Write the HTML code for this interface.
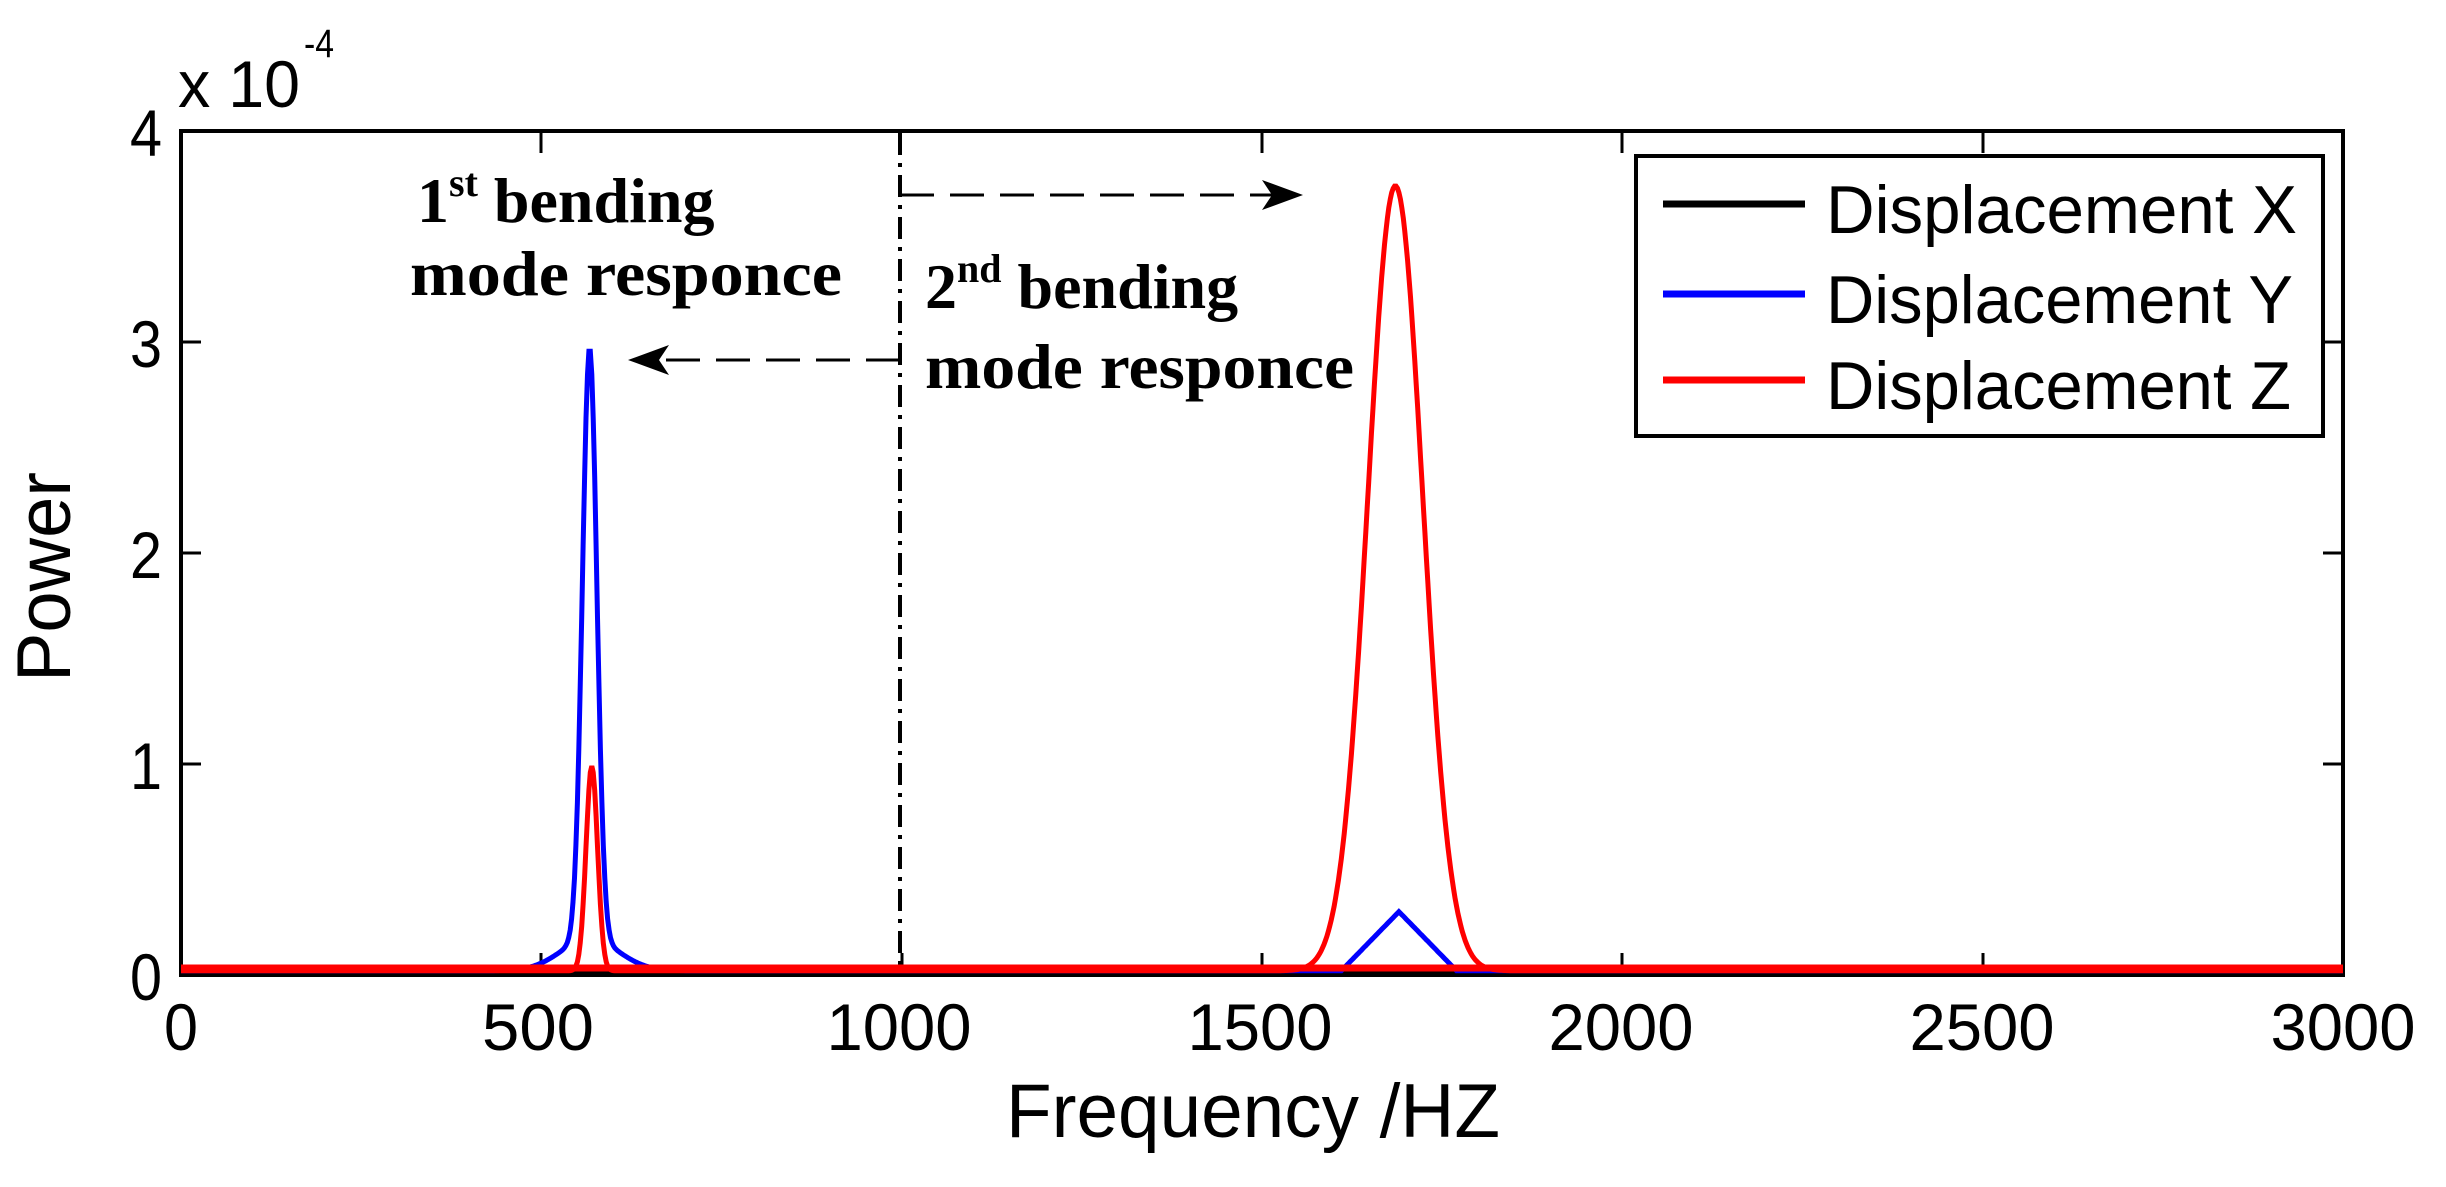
<!DOCTYPE html>
<html><head><meta charset="utf-8"><style>
html,body{margin:0;padding:0;background:#fff;}
svg{display:block;}
text.s{font-family:"Liberation Sans",sans-serif;}
text.t{font-family:"Liberation Serif",serif;font-weight:bold;}
</style></head><body>
<svg id="s" width="2446" height="1187" viewBox="0 0 2446 1187" xmlns="http://www.w3.org/2000/svg">
<rect width="2446" height="1187" fill="#fff"/>
<rect x="181" y="131" width="2162" height="844" fill="none" stroke="#000" stroke-width="4"/>
<g stroke="#000" stroke-width="3">
<line x1="541" y1="975" x2="541" y2="953"/><line x1="902" y1="975" x2="902" y2="953"/><line x1="1262" y1="975" x2="1262" y2="953"/><line x1="1622" y1="975" x2="1622" y2="953"/><line x1="1983" y1="975" x2="1983" y2="953"/>
<line x1="541" y1="131" x2="541" y2="153"/><line x1="1262" y1="131" x2="1262" y2="153"/><line x1="1622" y1="131" x2="1622" y2="153"/><line x1="1983" y1="131" x2="1983" y2="153"/>
<line x1="181" y1="342" x2="201" y2="342"/><line x1="181" y1="553" x2="201" y2="553"/><line x1="181" y1="764" x2="201" y2="764"/>
<line x1="2343" y1="342" x2="2323" y2="342"/><line x1="2343" y1="553" x2="2323" y2="553"/><line x1="2343" y1="764" x2="2323" y2="764"/>
</g>
<g font-size="66" text-anchor="end">
<text class="s" x="162" y="1000" textLength="32" lengthAdjust="spacingAndGlyphs">0</text>
<text class="s" x="162" y="789" textLength="32" lengthAdjust="spacingAndGlyphs">1</text>
<text class="s" x="162" y="578" textLength="32" lengthAdjust="spacingAndGlyphs">2</text>
<text class="s" x="162" y="367" textLength="32" lengthAdjust="spacingAndGlyphs">3</text>
<text class="s" x="162" y="156" textLength="32" lengthAdjust="spacingAndGlyphs">4</text>
</g>
<g font-size="66" text-anchor="middle">
<text class="s" x="181" y="1050" textLength="34" lengthAdjust="spacingAndGlyphs">0</text>
<text class="s" x="538" y="1050" textLength="112" lengthAdjust="spacingAndGlyphs">500</text>
<text class="s" x="899" y="1050" textLength="145" lengthAdjust="spacingAndGlyphs">1000</text>
<text class="s" x="1260" y="1050" textLength="145" lengthAdjust="spacingAndGlyphs">1500</text>
<text class="s" x="1621" y="1050" textLength="145" lengthAdjust="spacingAndGlyphs">2000</text>
<text class="s" x="1982" y="1050" textLength="145" lengthAdjust="spacingAndGlyphs">2500</text>
<text class="s" x="2343" y="1050" textLength="145" lengthAdjust="spacingAndGlyphs">3000</text>
</g>
<text class="s" x="178" y="107" font-size="66" textLength="122" lengthAdjust="spacingAndGlyphs">x 10</text>
<text class="s" x="304" y="57" font-size="40" textLength="30" lengthAdjust="spacingAndGlyphs">-4</text>
<text class="s" x="1006" y="1137" font-size="76" textLength="494" lengthAdjust="spacingAndGlyphs">Frequency /HZ</text>
<text class="s" transform="translate(70,577) rotate(-90)" font-size="76" text-anchor="middle" textLength="210" lengthAdjust="spacingAndGlyphs">Power</text>
<line x1="900" y1="133" x2="900" y2="973" stroke="#000" stroke-width="4" stroke-dasharray="22,8,4,8"/>
<line x1="900" y1="195" x2="1280" y2="195" stroke="#000" stroke-width="3" stroke-dasharray="34,16"/>
<path d="M1303 195 L1262 180 L1272 195 L1262 210 Z" fill="#000"/>
<line x1="900" y1="360" x2="650" y2="360" stroke="#000" stroke-width="3" stroke-dasharray="34,16"/>
<path d="M628 360 L669 345 L659 360 L669 375 Z" fill="#000"/>
<text class="t" x="417" y="222" font-size="64">1<tspan font-size="40" dy="-26">st</tspan><tspan dy="26"> bending</tspan></text>
<text class="t" x="410" y="295" font-size="64" textLength="432" lengthAdjust="spacingAndGlyphs">mode responce</text>
<text class="t" x="925" y="308" font-size="64">2<tspan font-size="40" dy="-26">nd</tspan><tspan dy="26"> bending</tspan></text>
<text class="t" x="925" y="388" font-size="64" textLength="429" lengthAdjust="spacingAndGlyphs">mode responce</text>
<g id="curves"></g>
<rect x="1636" y="156" width="687" height="280" fill="#fff" stroke="#000" stroke-width="4"/>
<line x1="1663" y1="204" x2="1805" y2="204" stroke="#000" stroke-width="7"/>
<line x1="1663" y1="294" x2="1805" y2="294" stroke="#00f" stroke-width="7"/>
<line x1="1663" y1="380" x2="1805" y2="380" stroke="#f00" stroke-width="7"/>
<g font-size="68">
<text class="s" x="1826" y="233" textLength="471" lengthAdjust="spacingAndGlyphs">Displacement X</text>
<text class="s" x="1826" y="323" textLength="467" lengthAdjust="spacingAndGlyphs">Displacement Y</text>
<text class="s" x="1826" y="409" textLength="465" lengthAdjust="spacingAndGlyphs">Displacement Z</text>
</g>
</svg>
<script>
(function(){
var X=function(f){return 181+f*2162/3000;}, Y=function(v){return 975-v*211;};
function g(f,c,s){return Math.exp(-0.5*Math.pow((f-c)/s,2));}
function path(fn){var d='';for(var f=0;f<=3000;f+=2){d+=(f?'L':'M')+X(f).toFixed(1)+' '+Y(fn(f)).toFixed(1);}return d;}
var blue=function(f){return 2.8*g(f,567,10)+0.15*g(f,567,40)+0.28*Math.max(0,1-Math.abs(f-1690)/80)+0.02;};
var red=function(f){return 0.97*g(f,570,8)+3.72*g(f,1685,38)+0.02;};
var h='';
h+='<path d="M181 972 L2343 972" stroke="#000" stroke-width="7" fill="none"/>';
h+='<path d="'+path(blue)+'" stroke="#00f" stroke-width="5" fill="none"/>';
h+='<path d="M181 968 L2343 968" stroke="#f00" stroke-width="7" fill="none"/>';
h+='<path d="'+path(red)+'" stroke="#f00" stroke-width="5" fill="none"/>';
document.getElementById('curves').innerHTML=h;
})();
</script>
</body></html>
